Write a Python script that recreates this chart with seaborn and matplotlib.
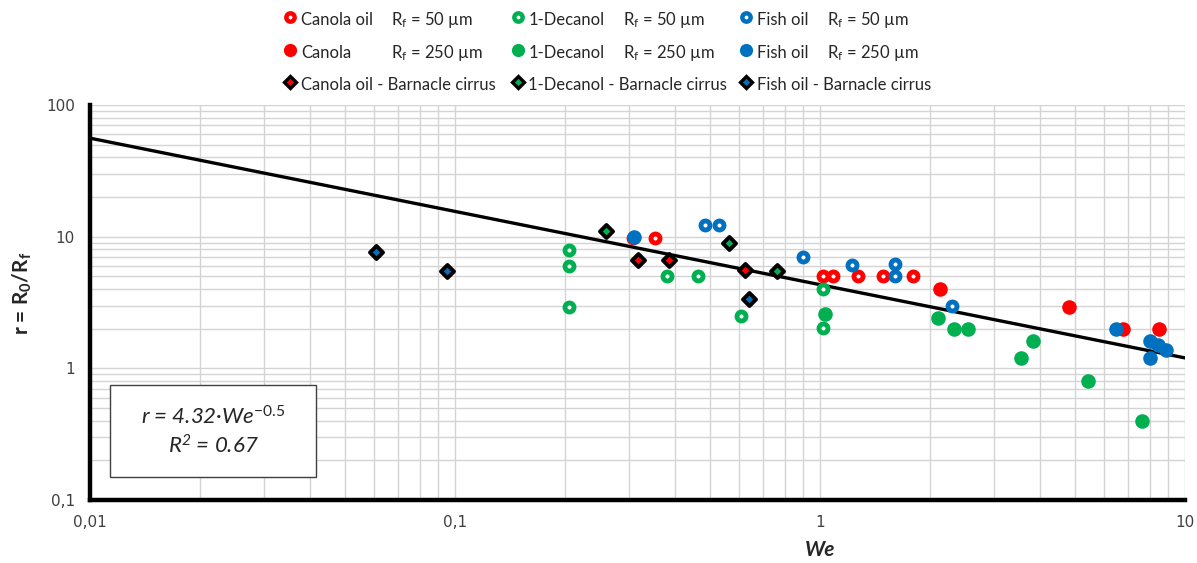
import numpy as np
import pandas as pd
import matplotlib
matplotlib.use("Agg")
import matplotlib.pyplot as plt
import seaborn as sns
from matplotlib.lines import Line2D
from matplotlib.patches import Rectangle
from matplotlib.ticker import LogLocator, NullFormatter

# ---------------- data ----------------
canola50_we = [0.307, 0.354, 1.02, 1.088, 1.27, 1.485, 1.795]
canola50_r = [9.85, 9.8, 5.0, 5.0, 5.0, 5.0, 5.0]
canola250_we = [2.13, 4.82, 6.75, 8.5]
canola250_r = [3.98, 2.94, 1.98, 1.98]
decanol50_we = [0.2056, 0.2056, 0.2056, 0.381, 0.464, 0.606, 1.02, 1.02]
decanol50_r = [7.9, 5.95, 2.94, 5.0, 5.0, 2.5, 3.98, 2.01]
decanol250_we = [1.032, 2.11, 2.33, 2.55, 3.55, 3.84, 5.41, 7.61]
decanol250_r = [2.58, 2.4, 1.98, 1.98, 1.19, 1.61, 0.80, 0.40]
fish50_we = [0.485, 0.53, 0.90, 1.22, 1.60, 1.60, 2.30]
fish50_r = [12.25, 12.25, 6.96, 6.08, 6.2, 5.0, 2.99]
fish250_we = [0.31, 6.47, 8.02, 8.45, 8.87, 8.02]
fish250_r = [10.0, 1.98, 1.62, 1.50, 1.39, 1.19]
canola_barn_we = [0.318, 0.386, 0.623]
canola_barn_r = [6.64, 6.64, 5.58]
decanol_barn_we = [0.26, 0.564, 0.761]
decanol_barn_r = [11.0, 8.9, 5.5]
fish_barn_we = [0.0608, 0.0952, 0.64]
fish_barn_r = [7.68, 5.5, 3.34]

fit_we = [0.01, 10]
fit_r = [56, 1.2]

xticks = [0.01, 0.1, 1, 10]
xticklabels = ["0,01", "0,1", "1", "10"]
yticks = [0.1, 1, 10, 100]
yticklabels = ["0,1", "1", "10", "100"]

RED, GREEN, BLUE = "#FF0000", "#00B050", "#0070C0"

series = [
    ("Canola oil 50", canola50_we, canola50_r, RED, "ring"),
    ("Canola 250", canola250_we, canola250_r, RED, "fill"),
    ("1-Decanol 50", decanol50_we, decanol50_r, GREEN, "ring"),
    ("1-Decanol 250", decanol250_we, decanol250_r, GREEN, "fill"),
    ("Fish oil 50", fish50_we, fish50_r, BLUE, "ring"),
    ("Fish oil 250", fish250_we, fish250_r, BLUE, "fill"),
    ("Canola barn", canola_barn_we, canola_barn_r, RED, "diamond"),
    ("Decanol barn", decanol_barn_we, decanol_barn_r, GREEN, "diamond"),
    ("Fish barn", fish_barn_we, fish_barn_r, BLUE, "diamond"),
]
df = pd.concat(
    [pd.DataFrame({"We": w, "r": r, "series": n}) for n, w, r, _, _ in series],
    ignore_index=True,
)

# ---------------- style ----------------
sns.set_style("white")
plt.rcParams["font.family"] = ["Lato", "DejaVu Sans"]
plt.rcParams["mathtext.fontset"] = "custom"
plt.rcParams["mathtext.rm"] = "Lato"
plt.rcParams["mathtext.it"] = "Lato:italic"
plt.rcParams["mathtext.bf"] = "Lato:bold"
plt.rcParams["mathtext.default"] = "regular"

fig = plt.figure(figsize=(11.97, 5.63), dpi=100)
ax = fig.add_axes([90 / 1197, 63 / 563, 1095 / 1197, 395 / 563])
ax.set_xscale("log")
ax.set_yscale("log")

sns.lineplot(x=fit_we, y=fit_r, ax=ax, color="black", lw=2.4, zorder=2,
             legend=False)

for name, w, r, c, kind in series:
    sub = df[df["series"] == name]
    if kind == "ring":
        kw = dict(marker="o", s=42, facecolor="white", edgecolor=c, linewidth=3.5)
    elif kind == "fill":
        kw = dict(marker="o", s=110, color=c, edgecolor=c, linewidth=0)
    else:
        kw = dict(marker="D", s=44, facecolor=c, edgecolor="black", linewidth=2.8)
    sns.scatterplot(data=sub, x="We", y="r", ax=ax, legend=False, zorder=3, **kw)

ax.set_xlim(0.01, 10)
ax.set_ylim(0.1, 100)

ax.xaxis.set_minor_locator(LogLocator(base=10, subs=np.arange(2, 10)))
ax.yaxis.set_minor_locator(LogLocator(base=10, subs=np.arange(2, 10)))
ax.xaxis.set_minor_formatter(NullFormatter())
ax.yaxis.set_minor_formatter(NullFormatter())
ax.set_xticks(xticks)
ax.set_xticklabels(xticklabels)
ax.set_yticks(yticks)
ax.set_yticklabels(yticklabels)
ax.grid(True, which="both", color="#d4d4d4", lw=1.0)
ax.set_axisbelow(True)
ax.tick_params(which="major", direction="out", length=3, width=3, color="black",
               labelsize=11, labelcolor="#404040", pad=8)
ax.tick_params(which="minor", length=0)
for lab in ax.get_xticklabels() + ax.get_yticklabels():
    lab.set_family("DejaVu Sans")

for s in ["top", "right"]:
    ax.spines[s].set_visible(False)
for s in ["left", "bottom"]:
    ax.spines[s].set_linewidth(3.2)
    ax.spines[s].set_color("black")

ax.set_xlabel("We", fontsize=15, fontweight="bold", style="italic", va="center")
ax.xaxis.set_label_coords((820 - 90) / 1095, (500 - 550) / 395)
ax.set_ylabel("r = R$_0$/R$_f$", fontsize=15, fontweight="bold", va="center")
ax.yaxis.set_label_coords((22 - 90) / 1095, (500 - 293) / 395)

# equation box
ax.add_patch(Rectangle((20 / 1095, 23 / 395), 206 / 1095, 92 / 395,
                       transform=ax.transAxes, facecolor="white",
                       edgecolor="#404040", lw=1.0, zorder=4))
ax.text(123 / 1095, (500 - 417) / 395, "r = 4.32·We$^{\\mathit{-0.5}}$",
        transform=ax.transAxes, ha="center", va="center", fontsize=16,
        style="italic", zorder=5)
ax.text(123 / 1095, (500 - 446) / 395, "R$^2$ = 0.67", transform=ax.transAxes,
        ha="center", va="center", fontsize=16, style="italic", zorder=5)

# ---------------- legends ----------------
def ring(c):
    return Line2D([], [], ls="", marker="o", ms=6, mfc="white", mec=c, mew=3.2)

def filled(c):
    return Line2D([], [], ls="", marker="o", ms=9.5, mfc=c, mec=c, mew=0)

def diamond(c):
    return Line2D([], [], ls="", marker="D", ms=6, mfc=c, mec="black", mew=2.4)

blank = Line2D([], [], ls="", marker=None)

groups = [
    ("Canola oil", "Canola", "Canola oil - Barnacle cirrus", RED, 283.5),
    ("1-Decanol", "1-Decanol", "1-Decanol - Barnacle cirrus", GREEN, 511),
    ("Fish oil", "Fish oil", "Fish oil - Barnacle cirrus", BLUE, 739.5),
]
legkw = dict(frameon=False, borderpad=0, borderaxespad=0, handlelength=0.8,
             handletextpad=0.24, handleheight=1.5, fontsize=12, loc="upper left",
             bbox_transform=fig.transFigure)
for lab50, lab250, labbarn, c, xpix in groups:
    lg = ax.legend([ring(c), filled(c), blank, blank],
                   [lab50, lab250, "R$_f$ = 50 µm", "R$_f$ = 250 µm"],
                   ncol=2, columnspacing=0.05, labelspacing=0.78,
                   bbox_to_anchor=(xpix / 1197, 1 - 9 / 563), **legkw)
    ax.add_artist(lg)
    lgb = ax.legend([diamond(c)], [labbarn],
                    bbox_to_anchor=(xpix / 1197, 1 - 74 / 563), **legkw)
    ax.add_artist(lgb)
ax.legend_ = None

fig.savefig("out.png", dpi=100)
